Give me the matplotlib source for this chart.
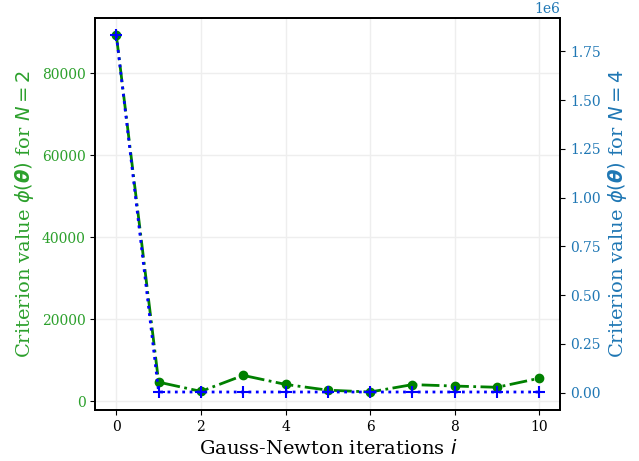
import matplotlib
matplotlib.use('Agg')
import matplotlib.pyplot as plt

iterations = [0, 1, 2, 3, 4, 5, 6, 7, 8, 9, 10]
phi_n2 = [89200, 4700, 2450, 6350, 4150, 2750, 2300, 4100, 3750, 3450, 5650]
phi_n4 = [1831600, 2800, 2800, 2800, 2800, 2800, 2800, 2800, 2800, 2800, 2800]

plt.rcParams['font.family'] = 'DejaVu Serif'
plt.rcParams['mathtext.fontset'] = 'dejavusans'


def plot_criterion():
    """Criterion value vs Gauss-Newton iterations"""
    fig, ax1 = plt.subplots(figsize=(6.39, 4.61), dpi=100)
    ax2 = ax1.twinx()

    ax1.plot(iterations, phi_n2, color='green', linestyle='-.', linewidth=2,
             marker='o', markersize=6)
    ax2.plot(iterations, phi_n4, color='blue', linestyle=':', linewidth=2,
             marker='+', markersize=8, markeredgewidth=1.5)

    ax1.grid(True, color='#eeeeee', linewidth=1)
    ax1.set_axisbelow(True)

    ax1.set_xlabel(r'Gauss-Newton iterations $i$', fontsize=14)
    ax1.set_ylabel(r'Criterion value $\phi(\boldsymbol{\theta})$ for $N=2$',
                   color='tab:green', fontsize=14)
    ax2.set_ylabel(r'Criterion value $\phi(\boldsymbol{\theta})$ for $N=4$',
                   color='tab:blue', fontsize=14)

    ax1.tick_params(axis='y', labelcolor='tab:green')
    ax2.tick_params(axis='y', labelcolor='tab:blue')
    ax2.yaxis.get_offset_text().set_color('tab:blue')

    for ax in (ax1, ax2):
        for s in ax.spines.values():
            s.set_linewidth(1.3)

    fig.subplots_adjust(left=0.149, right=0.877, top=0.962, bottom=0.111)
    fig.savefig('out.png', dpi=100)


plot_criterion()
